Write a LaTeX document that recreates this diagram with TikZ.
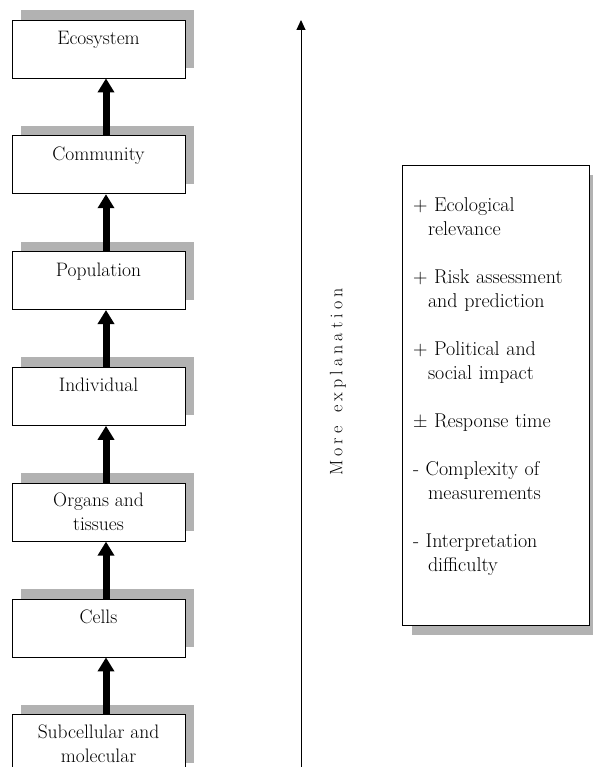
\documentclass[tikz,border=0pt]{standalone}
\usepackage{fontspec}
\usepackage{tikz}
\usetikzlibrary{shapes,positioning,shadows,arrows.meta}

\tikzset{
  level/.style={draw, fill=white, line width=0.8pt,
    minimum width=173pt, minimum height=58pt,
    align=center, inner sep=2pt,
    font=\fontsize{19.5}{24}\selectfont,
    drop shadow={shadow xshift=9pt, shadow yshift=10pt, opacity=1, fill=gray!60}},
  oneline/.style={text height=13pt, text depth=22pt},
  uparrow/.style={line width=7pt, -{Triangle[width=16pt,length=14pt]}},
}
\newcommand{\hang}{\hspace*{15pt}}
\newcommand{\gap}{\kern4.1pt}

\begin{document}
\begin{tikzpicture}[x=1pt,y=1pt]
\useasboundingbox (0,0) rectangle (592,-767);

% Levels of organisation
\node[level, oneline] (eco) at (98.5,-49) {Ecosystem};

\node[level, oneline,
    below= 57pt of eco
] (com) {Community};

\node[level, oneline,
    below= 57pt of com
] (pop) {Population};

\node[level, oneline,
    below= 57pt of pop
] (ind) {Individual};

\node[level,
    below= 57pt of ind
] (org) {Organs and\\ tissues};

\node[level, oneline,
    below= 57pt of org
] (cel) {Cells};

\node[level,
    below= 57pt of cel
] (sub) {Subcellular and\\ molecular};

% Arrows between levels
\draw[uparrow] ([xshift=7.5pt]com.north) -- ([xshift=7.5pt]eco.south);
\draw[uparrow] ([xshift=7.5pt]pop.north) -- ([xshift=7.5pt]com.south);
\draw[uparrow] ([xshift=7.5pt]ind.north) -- ([xshift=7.5pt]pop.south);
\draw[uparrow] ([xshift=7.5pt]org.north) -- ([xshift=7.5pt]ind.south);
\draw[uparrow] ([xshift=7.5pt]cel.north) -- ([xshift=7.5pt]org.south);
\draw[uparrow] ([xshift=7.5pt]sub.north) -- ([xshift=7.5pt]cel.south);

% Explanation axis
\coordinate (axbot) at (301,-767);
\coordinate (axtop) at (301,-20);
\draw[line width=1pt, -{Triangle[width=9pt,length=10pt]}] (axbot) -- (axtop);

\node[rotate=90,
    font=\fontsize{18}{20}\selectfont
] (expl) at (338,-382) {M\gap o\gap r\gap e\gap\ \gap e\gap x\gap p\gap l\gap a\gap n\gap a\gap t\gap i\gap o\gap n};

% Pros and cons block
\node[draw, fill=white, line width=0.8pt,
    minimum width=187pt, minimum height=460pt,
    text width=165pt, inner xsep=11pt,
    align=left,
    font=\fontsize{20}{24}\selectfont,
    drop shadow={shadow xshift=10pt, shadow yshift=-10pt, opacity=1, fill=gray!60}
] (notes) at (495.5,-395) {+ Ecological\\
\hang relevance\\[24pt]
+ Risk assessment\\
\hang and prediction\\[24pt]
+ Political and\\
\hang social impact\\[24pt]
\textpm{} Response time\\[24pt]
- Complexity of\\
\hang measurements\\[24pt]
- Interpretation\\
\hang difficulty\\[-4pt]\mbox{}};

\end{tikzpicture}
\end{document}
